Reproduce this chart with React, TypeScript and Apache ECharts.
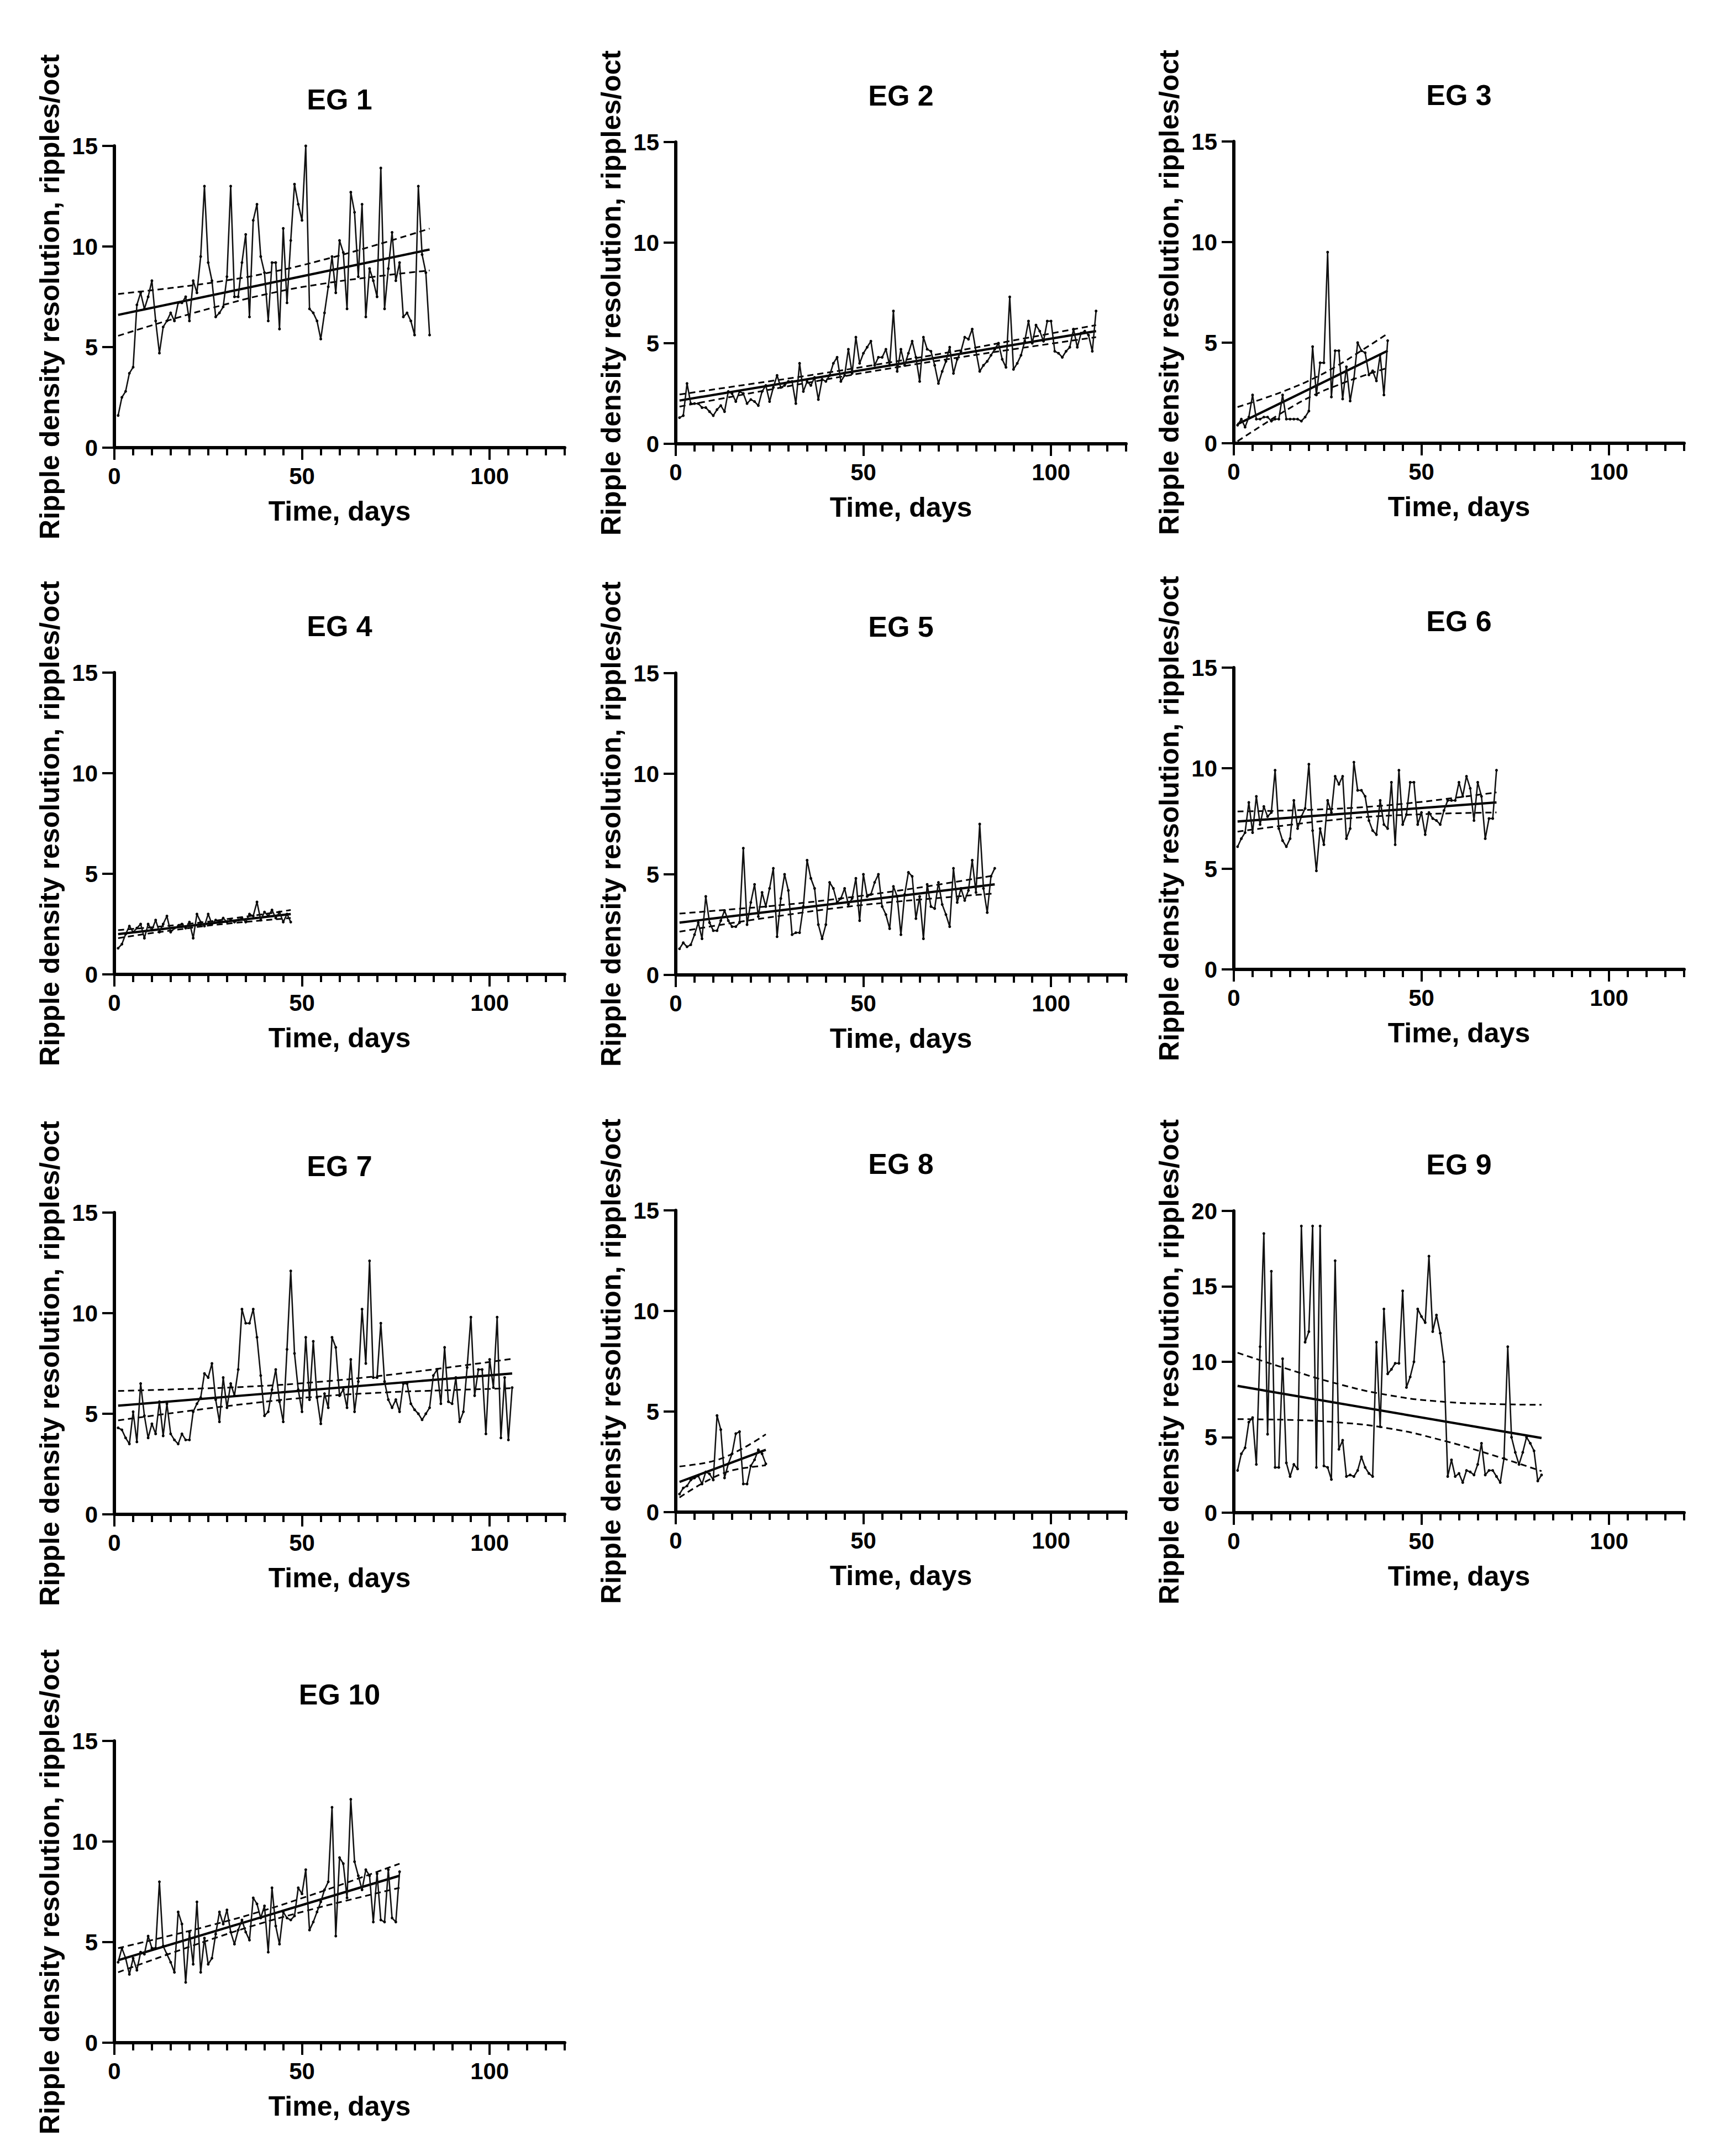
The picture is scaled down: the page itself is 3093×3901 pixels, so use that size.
import { useEffect, useRef } from 'react';
import * as echarts from 'echarts';

const FONT = '"Liberation Sans", Arial, Helvetica, sans-serif';
const INK = '#000';

const PAGE_W = 3093;
const PAGE_H = 3901;
const PANEL_W = 815;
const PANEL_H = 546;
// top-left corner of each plot area
const PANEL_POS = [
  [207, 264], [1223, 257], [2233, 256],
  [207, 1217], [1223, 1218], [2233, 1208],
  [207, 2194], [1223, 2190], [2233, 2191],
  [207, 3150],
];

const TITLES = ['EG 1', 'EG 2', 'EG 3', 'EG 4', 'EG 5', 'EG 6', 'EG 7', 'EG 8', 'EG 9', 'EG 10'];
const X_AXIS_NAME = 'Time, days';
const Y_AXIS_NAME = 'Ripple density resolution, ripples/oct';
const X_LABELS = [0, 50, 100];
const X_MAX = 120;
const Y_MAX = [15, 15, 15, 15, 15, 15, 15, 15, 20, 15];

// daily values, day 1 onward
const EG1 = [
  1.6, 2.5, 2.8, 3.7, 4.0, 7.1, 7.7, 6.9, 7.5, 8.3,
  6.3, 4.7, 6.0, 6.3, 6.7, 6.3, 7.2, 7.2, 7.5, 6.3,
  8.3, 7.7, 9.5, 13.0, 9.2, 8.3, 6.5, 6.7, 7.0, 8.5,
  13.0, 7.5, 7.5, 9.2, 10.6, 6.5, 11.3, 12.1, 9.5, 8.7,
  6.3, 9.2, 9.2, 5.9, 10.9, 7.2, 10.3, 13.1, 12.1, 11.3,
  15.0, 6.9, 6.7, 6.3, 5.4, 6.7, 8.0, 9.5, 7.7, 10.3,
  9.7, 6.9, 12.7, 11.7, 8.5, 12.1, 6.5, 8.9, 8.3, 7.5,
  13.9, 6.9, 8.9, 10.7, 8.3, 9.2, 6.5, 6.7, 6.3, 5.6,
  13.0, 9.6, 8.7, 5.6,
];
const EG2 = [
  1.3, 1.4, 3.0, 2.0, 2.0, 2.0, 1.8, 1.8, 1.6, 1.4,
  1.7, 1.9, 1.6, 2.6, 2.5, 2.1, 2.6, 2.5, 2.0, 2.2,
  2.1, 1.9, 2.6, 2.9, 2.1, 2.8, 3.4, 2.8, 2.9, 3.1,
  3.1, 2.0, 4.0, 2.6, 3.1, 2.9, 3.3, 2.2, 3.2, 3.1,
  3.4, 4.0, 4.3, 3.1, 3.4, 4.7, 3.5, 5.3, 4.0, 4.5,
  4.8, 5.1, 3.9, 4.3, 4.3, 4.7, 3.9, 6.6,
  3.6, 4.7, 3.9, 4.5, 5.1, 4.3, 3.1, 5.3, 4.7, 4.6,
  3.9, 3.0, 3.6, 4.1, 4.8, 3.5, 4.2, 4.6, 5.3, 5.2,
  5.7, 4.6, 3.6, 3.9, 4.1, 4.4, 4.7, 5.0, 4.2, 3.8,
  7.3,
  3.7, 4.0, 4.4, 5.1, 6.1, 5.0, 5.9, 5.6, 5.1, 6.1,
  6.1, 4.6, 4.5, 4.3, 4.6, 4.8, 5.7, 4.8, 5.5, 5.6,
  5.4, 4.6, 6.6,
];
const EG3 = [
  0.9, 1.2, 0.8, 1.3, 2.4, 1.2, 1.2, 1.3, 1.3, 1.1,
  1.2, 1.2, 2.4, 1.2, 1.2, 1.2, 1.2, 1.1, 1.3, 1.6,
  4.8, 2.4, 4.0, 4.0, 9.5, 2.3, 4.6, 4.6, 2.2, 3.8,
  2.1, 3.2, 5.0, 4.6, 4.5, 3.4, 3.6, 3.1, 4.4, 2.4,
  5.1,
];
const EG4 = [
  1.3, 1.5, 2.0, 2.4, 2.1, 2.3, 2.5, 1.8, 2.5, 2.2,
  2.7, 2.1, 2.5, 2.9, 2.1, 2.3, 2.4, 2.5, 2.3, 2.6,
  1.8, 3.0, 2.6, 2.4, 3.0, 2.5, 2.7, 2.6, 2.8, 2.6,
  2.7, 2.6, 2.7, 2.8, 2.6, 3.0, 2.9, 3.6, 2.7, 3.1,
  2.9, 3.2, 2.8, 3.1, 2.6, 3.0, 2.6,
];
const EG5 = [
  1.3, 1.6, 1.4, 1.5, 2.0, 2.6, 1.8, 3.9, 2.6, 2.2,
  2.2, 2.7, 3.2, 2.7, 2.4, 2.4, 2.6, 6.3, 2.5, 3.6,
  4.5, 2.9, 4.1, 3.4, 4.3, 5.3, 1.9, 3.8, 5.0, 4.2,
  2.0, 2.1, 2.1, 3.4, 5.7, 4.8, 4.3, 2.5, 1.8, 2.5,
  4.6, 4.3, 3.6, 3.8, 4.3, 3.5, 3.8, 4.8, 2.7, 5.0,
  3.9, 4.0, 4.6, 5.0, 3.4, 3.0, 2.3, 4.4, 3.9, 2.0,
  4.0, 5.1, 4.9, 2.8, 3.9, 1.8, 4.5, 3.4, 3.3, 4.6,
  3.5, 3.0, 2.4, 5.3, 3.6, 4.3, 3.7, 4.2, 5.7, 4.1,
  7.5, 4.3, 3.1, 4.9, 5.3,
];
const EG6 = [
  6.1, 6.5, 6.8, 8.3, 6.8, 8.6, 7.2, 8.1, 7.6, 7.8,
  9.9, 7.0, 6.4, 6.1, 6.5, 8.4, 7.0, 7.6, 8.0, 10.2,
  6.9, 4.9, 7.0, 6.2, 8.4, 7.8, 9.6, 9.2, 9.6, 6.5,
  7.0, 10.3, 8.9, 8.9, 8.6, 7.4, 6.9, 6.7, 8.4, 7.2,
  7.0, 9.3, 6.2, 9.9, 7.2, 7.7, 9.3, 9.3, 7.2, 7.8,
  6.7, 7.8, 7.5, 7.4, 7.2, 7.9, 8.4, 8.4, 8.4, 9.3,
  8.6, 9.6, 9.0, 7.4, 9.3, 8.6, 6.5, 7.5, 7.5, 9.9,
];
const EG7 = [
  4.3, 4.2, 3.8, 3.5, 5.1, 3.6, 6.5, 4.9, 3.8, 4.5,
  4.0, 5.6, 3.9, 5.5, 4.0, 3.7, 3.5, 4.0, 3.7, 3.7,
  5.1, 5.5, 5.8, 7.0, 6.8, 7.5, 5.7, 4.6, 6.8, 5.3,
  6.5, 5.9, 7.2, 10.2, 9.5, 9.5, 10.2, 8.8, 6.9, 4.9,
  5.1, 6.2, 7.2, 5.6, 4.6, 8.2, 12.1, 8.0, 6.2, 5.1,
  8.8, 5.7, 8.6, 5.8, 4.5, 6.0, 5.3, 8.8, 8.3, 5.9,
  6.2, 5.3, 7.7, 5.1, 6.6, 10.2, 7.5, 12.6, 6.8, 6.8,
  9.5, 6.6, 5.7, 5.3, 5.7, 5.1, 6.5, 6.5, 5.5, 5.2,
  5.0, 4.7, 5.0, 5.3, 6.9, 7.2, 5.5, 8.3, 5.6, 5.5,
  6.8, 4.6, 5.1, 7.3, 9.8, 5.9, 7.2, 7.2, 4.0, 7.7,
  6.3, 9.8, 3.8, 6.8, 3.7, 6.3,
];
const EG8 = [
  0.9, 1.2, 1.3, 1.6, 1.7, 1.8, 1.4, 2.0, 1.9, 1.6,
  4.8, 4.1, 1.7, 2.4, 2.9, 3.9, 4.0, 1.4, 1.4, 2.3,
  2.6, 3.1, 2.9, 2.4,
];
const EG9 = [
  2.8, 3.9, 4.3, 6.0, 6.3, 3.2, 11.0, 18.5, 5.2, 16.0,
  3.0, 3.0, 10.2, 3.3, 2.4, 3.2, 2.9, 19.0, 11.3, 12.0,
  19.0, 3.0, 19.0, 3.1, 3.0, 2.2, 16.7, 4.2, 4.8, 2.4,
  2.5, 2.4, 2.8, 3.7, 3.0, 2.6, 2.4, 11.3, 5.7, 13.5,
  9.2, 9.5, 9.9, 9.9, 14.7, 8.3, 9.0, 10.0, 13.5, 13.0,
  12.6, 17.0, 12.0, 13.1, 11.9, 10.0, 2.4, 3.5, 2.4, 2.6,
  2.0, 2.8, 2.7, 2.5, 3.2, 4.6, 2.5, 2.8, 2.8, 2.4,
  2.0, 3.6, 11.0, 5.0, 4.0, 3.2, 4.0, 5.0, 4.6, 4.1,
  2.1, 2.5,
];
const EG10 = [
  4.0, 4.7, 4.2, 3.4, 4.2, 3.6, 4.5, 4.4, 5.3, 4.7,
  4.7, 8.0, 4.8, 4.4, 4.0, 3.5, 6.5, 5.9, 3.0, 5.5,
  3.9, 7.0, 3.5, 5.2, 3.9, 4.2, 5.4, 6.5, 5.9, 6.6,
  5.5, 4.9, 5.6, 6.1, 5.5, 5.1, 7.2, 6.9, 6.2, 6.8,
  4.5, 7.7, 5.8, 4.9, 6.5, 6.2, 6.1, 6.3, 7.7, 7.4,
  8.6, 5.6, 6.0, 6.5, 7.0, 7.6, 8.0, 11.7, 5.3, 9.2,
  8.9, 7.2, 12.1, 9.0, 8.3, 7.6, 8.6, 8.3, 6.0, 8.4,
  6.1, 6.0, 8.6, 6.2, 6.0, 8.5,
];

// regression line ends, [day, value]
const FIT1 = [[1, 6.6], [84, 9.85]];
const FIT2 = [[1, 2.15], [112, 5.6]];
const FIT3 = [[1, 0.95], [41, 4.6]];
const FIT4 = [[1, 2.0], [47, 3.0]];
const FIT5 = [[1, 2.6], [85, 4.5]];
const FIT6 = [[1, 7.35], [70, 8.3]];
const FIT7 = [[1, 5.4], [106, 7.0]];
const FIT8 = [[1, 1.5], [24, 3.1]];
const FIT9 = [[1, 8.4], [82, 4.95]];
const FIT10 = [[1, 4.1], [76, 8.3]];

// 95% confidence bands, read at seven days each
const BAND1_X = [1, 14.8, 28.7, 42.5, 56.3, 70.2, 84];
const BAND1_HI = [7.64, 7.93, 8.28, 8.75, 9.37, 10.1, 10.89];
const BAND1_LO = [5.56, 6.35, 7.08, 7.71, 8.17, 8.52, 8.81];
const BAND2_X = [1, 19.5, 38, 56.5, 75, 93.5, 112];
const BAND2_HI = [2.45, 2.96, 3.47, 4.03, 4.62, 5.26, 5.9];
const BAND2_LO = [1.85, 2.5, 3.13, 3.73, 4.28, 4.8, 5.3];
const BAND3_X = [1, 7.7, 14.3, 21, 27.7, 34.3, 41];
const BAND3_HI = [1.8, 2.21, 2.66, 3.2, 3.87, 4.64, 5.45];
const BAND3_LO = [0.1, 0.91, 1.68, 2.36, 2.89, 3.34, 3.75];
const BAND4_X = [1, 8.7, 16.3, 24, 31.7, 39.3, 47];
const BAND4_HI = [2.2, 2.32, 2.45, 2.6, 2.79, 2.98, 3.2];
const BAND4_LO = [1.8, 2.02, 2.21, 2.4, 2.55, 2.68, 2.8];
const BAND5_X = [1, 15, 29, 43, 57, 71, 85];
const BAND5_HI = [3.05, 3.26, 3.49, 3.78, 4.13, 4.52, 4.95];
const BAND5_LO = [2.15, 2.58, 2.97, 3.33, 3.61, 3.84, 4.05];
const BAND6_X = [1, 12.5, 24, 35.5, 47, 58.5, 70];
const BAND6_HI = [7.85, 7.89, 7.96, 8.08, 8.27, 8.52, 8.8];
const BAND6_LO = [6.85, 7.13, 7.38, 7.58, 7.69, 7.76, 7.8];
const BAND7_X = [1, 18.5, 36, 53.5, 71, 88.5, 106];
const BAND7_HI = [6.13, 6.23, 6.35, 6.57, 6.89, 7.29, 7.73];
const BAND7_LO = [4.67, 5.11, 5.51, 5.84, 6.05, 6.17, 6.27];
const BAND8_X = [1, 4.8, 8.7, 12.5, 16.3, 20.2, 24];
const BAND8_HI = [2.27, 2.36, 2.48, 2.69, 3.02, 3.42, 3.87];
const BAND8_LO = [0.73, 1.18, 1.59, 1.92, 2.13, 2.24, 2.33];
const BAND9_X = [1, 14.5, 28, 41.5, 55, 68.5, 82];
const BAND9_HI = [10.6, 9.51, 8.52, 7.78, 7.37, 7.21, 7.15];
const BAND9_LO = [6.2, 6.15, 5.98, 5.58, 4.83, 3.85, 2.75];
const BAND10_X = [1, 13.5, 26, 38.5, 51, 63.5, 76];
const BAND10_HI = [4.7, 5.26, 5.85, 6.5, 7.25, 8.06, 8.9];
const BAND10_LO = [3.5, 4.34, 5.15, 5.9, 6.55, 7.14, 7.7];

const PANELS = [
  { values: EG1, fit: FIT1, bx: BAND1_X, hi: BAND1_HI, lo: BAND1_LO },
  { values: EG2, fit: FIT2, bx: BAND2_X, hi: BAND2_HI, lo: BAND2_LO },
  { values: EG3, fit: FIT3, bx: BAND3_X, hi: BAND3_HI, lo: BAND3_LO },
  { values: EG4, fit: FIT4, bx: BAND4_X, hi: BAND4_HI, lo: BAND4_LO },
  { values: EG5, fit: FIT5, bx: BAND5_X, hi: BAND5_HI, lo: BAND5_LO },
  { values: EG6, fit: FIT6, bx: BAND6_X, hi: BAND6_HI, lo: BAND6_LO },
  { values: EG7, fit: FIT7, bx: BAND7_X, hi: BAND7_HI, lo: BAND7_LO },
  { values: EG8, fit: FIT8, bx: BAND8_X, hi: BAND8_HI, lo: BAND8_LO },
  { values: EG9, fit: FIT9, bx: BAND9_X, hi: BAND9_HI, lo: BAND9_LO },
  { values: EG10, fit: FIT10, bx: BAND10_X, hi: BAND10_HI, lo: BAND10_LO },
];

const zip = (xs: number[], ys: number[]) => xs.map((x, k) => [x, ys[k]]);

function buildOption(): echarts.EChartsOption {
  const bold = { fontFamily: FONT, fontWeight: 'bold' as const, color: INK };
  const axisLine = { show: true, onZero: false, lineStyle: { color: INK, width: 6 } };

  const grid = PANEL_POS.map(([left, top]) => ({ left, top, width: PANEL_W, height: PANEL_H }));

  const xAxis: any[] = [];
  PANEL_POS.forEach((_, i) => {
    // minor ticks every 5 days, labels and axis name
    xAxis.push({
      type: 'value',
      gridIndex: i,
      position: 'bottom',
      min: 0,
      max: X_MAX,
      interval: 5,
      name: X_AXIS_NAME,
      nameLocation: 'middle',
      nameGap: 90,
      nameTextStyle: { ...bold, fontSize: 50 },
      axisLine,
      axisTick: { show: true, length: 14, lineStyle: { color: INK, width: 4 } },
      axisLabel: {
        ...bold,
        fontSize: 42,
        margin: 30,
        formatter: (v: number) => (X_LABELS.includes(v) ? String(v) : ''),
      },
      splitLine: { show: false },
    });
  });
  PANEL_POS.forEach((_, i) => {
    // longer ticks at the labelled days
    xAxis.push({
      type: 'value',
      gridIndex: i,
      position: 'bottom',
      offset: 0,
      min: 0,
      max: X_MAX,
      axisLine: { show: false },
      axisTick: { show: true, customValues: X_LABELS, length: 22, lineStyle: { color: INK, width: 4 } },
      axisLabel: { show: false },
      splitLine: { show: false },
    });
  });

  const yAxis = PANEL_POS.map((_, i) => ({
    type: 'value' as const,
    gridIndex: i,
    min: 0,
    max: Y_MAX[i],
    interval: 5,
    name: Y_AXIS_NAME,
    nameLocation: 'middle' as const,
    nameGap: 92,
    nameTextStyle: { ...bold, fontSize: 50 },
    axisLine,
    axisTick: { show: true, length: 22, lineStyle: { color: INK, width: 4 } },
    axisLabel: { ...bold, fontSize: 42, margin: 30 },
    splitLine: { show: false },
  }));

  const series: any[] = [];
  PANELS.forEach((p, i) => {
    const dashed = { color: INK, width: 3, type: [11, 7] };
    series.push(
      {
        type: 'line', xAxisIndex: i, yAxisIndex: i, data: zip(p.bx, p.hi),
        smooth: true, symbol: 'none', lineStyle: dashed, silent: true, z: 2,
      },
      {
        type: 'line', xAxisIndex: i, yAxisIndex: i, data: zip(p.bx, p.lo),
        smooth: true, symbol: 'none', lineStyle: dashed, silent: true, z: 2,
      },
      {
        type: 'line', xAxisIndex: i, yAxisIndex: i, data: p.fit,
        symbol: 'none', lineStyle: { color: INK, width: 4.2 }, silent: true, z: 3,
      },
      {
        type: 'line', xAxisIndex: i, yAxisIndex: i,
        data: p.values.map((v, k) => [k + 1, v]),
        symbol: 'circle', symbolSize: 5,
        itemStyle: { color: INK },
        lineStyle: { color: '#111', width: 2.6 },
        silent: true, z: 4,
      },
    );
  });

  const graphic = PANEL_POS.map(([left, top], i) => ({
    type: 'text' as const,
    x: left + PANEL_W / 2,
    y: top - 84,
    style: {
      text: TITLES[i],
      fill: INK,
      fontFamily: FONT,
      fontWeight: 'bold' as const,
      fontSize: 52,
      align: 'center' as const,
      verticalAlign: 'middle' as const,
    },
  }));

  return {
    animation: false,
    backgroundColor: '#fff',
    grid,
    xAxis,
    yAxis,
    series,
    graphic,
  };
}

export default function App() {
  const containerRef = useRef<HTMLDivElement>(null);

  useEffect(() => {
    if (!containerRef.current) return;
    const chart = echarts.init(containerRef.current, undefined, { renderer: 'svg' });
    chart.setOption(buildOption());
    return () => {
      chart.dispose();
    };
  }, []);

  return (
    <div
      ref={containerRef}
      style={{ position: 'absolute', left: 0, top: 0, width: PAGE_W, height: PAGE_H, background: '#fff' }}
    />
  );
}
